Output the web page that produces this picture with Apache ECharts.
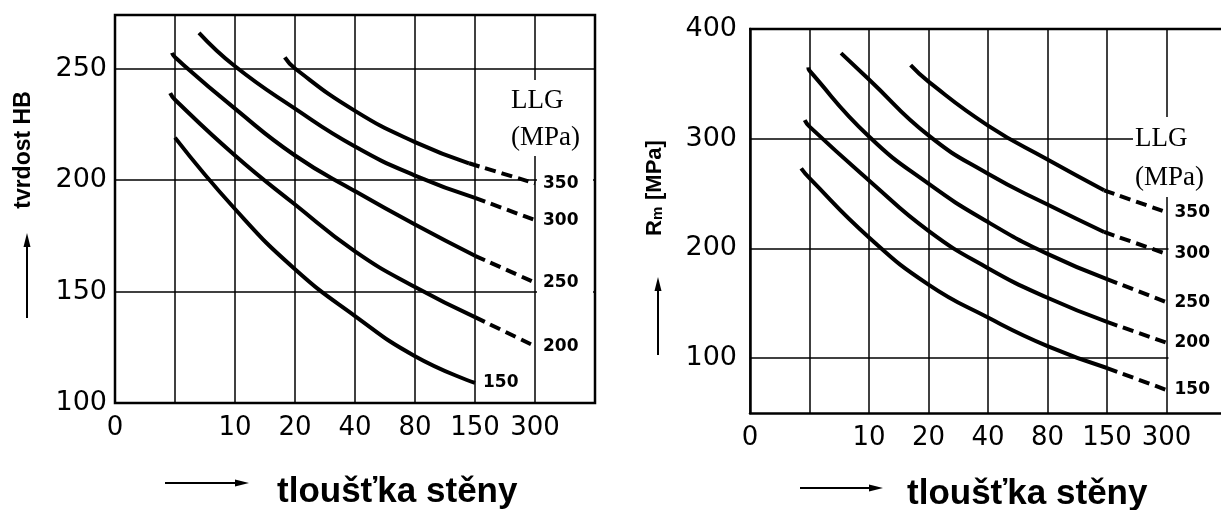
<!DOCTYPE html>
<html>
<head>
<meta charset="utf-8">
<title>tvrdost a Rm vs. tloušťka stěny</title>
<script src="https://cdn.jsdelivr.net/npm/echarts@6/dist/echarts.min.js"></script>
<style>
  html, body { margin: 0; padding: 0; background: #fff; overflow: hidden; }
  #main { width: 1221px; height: 510px; }
</style>
</head>
<body>
<div id="main"></div>
<script>
// x positions are slots on the wall thickness scale, labels below
const xTickLabels = ['0', '', '10', '20', '40', '80', '150', '300', ''];
const curveNames = ['150', '200', '250', '300', '350'];

// left panel: tvrdost HB, [slot, HB]
const hb150 = [[1.0, 219], [2, 187], [3, 160], [4, 139], [5, 121], [6, 109]];
const hb200 = [[0.92, 239], [1, 236], [2, 211], [3, 189], [4, 168], [5, 152], [6, 138.5]];
const hb200Dash = [[6, 138.5], [7, 125.5]];
const hb250 = [[0.95, 257], [1, 255], [2, 232], [3, 211], [4, 195], [5, 180], [6, 166]];
const hb250Dash = [[6, 166], [7, 154]];
const hb300 = [[1.4, 266], [2, 251], [3, 232], [4, 215], [5, 202], [6, 192]];
const hb300Dash = [[6, 192], [7, 182]];
const hb350 = [[2.83, 255], [3, 250], [4, 231], [5, 217], [5.9, 207.5]];
const hb350Dash = [[5.9, 207.5], [7, 198.5]];

// right panel: Rm [MPa]
const rm150 = [[0.86, 273], [1, 264], [2, 210], [3, 167], [4, 137], [5, 111], [6, 91]];
const rm150Dash = [[6, 91], [7, 71]];
const rm200 = [[0.92, 317], [1, 311], [2, 262], [3, 216], [4, 182], [5, 155], [6, 133]];
const rm200Dash = [[6, 133], [7, 114]];
const rm250 = [[0.98, 365], [1, 362], [2, 302], [3, 259], [4, 224], [5, 195], [6, 172]];
const rm250Dash = [[6, 172], [7, 151]];
const rm300 = [[1.53, 378], [2, 354], [3, 303], [4, 268], [5, 240], [5.95, 215]];
const rm300Dash = [[5.95, 215], [7, 195]];
const rm350 = [[2.7, 367], [3, 352], [4, 312], [5, 281], [5.95, 253]];
const rm350Dash = [[5.95, 253], [7, 233]];

const hbTicks = [100, 150, 200, 250];
const rmTicks = [100, 200, 300, 400];

function curve(data, grid, dashed, label) {
  const s = {
    type: 'line',
    xAxisIndex: grid,
    yAxisIndex: grid,
    data: data,
    smooth: 0.5,
    showSymbol: false,
    symbol: 'none',
    z: 5,
    lineStyle: { color: '#000', width: 4, type: dashed ? [11, 6] : 'solid' }
  };
  if (label) {
    s.endLabel = {
      show: true,
      formatter: label,
      color: '#000',
      fontFamily: 'DejaVu Sans',
      fontWeight: 'bold',
      fontSize: 17,
      distance: 6,
      backgroundColor: '#fff',
      padding: [1, 2]
    };
  }
  return s;
}

const axisFont = { color: '#000', fontFamily: 'DejaVu Sans' };
const frame = { show: true, lineStyle: { color: '#000', width: 2.5 } };

const chart = echarts.init(document.getElementById('main'));
chart.setOption({
  animation: false,
  backgroundColor: '#fff',
  grid: [
    { left: 115, top: 15, right: 626, bottom: 107, outerBoundsMode: 'none', show: true, borderColor: '#000', borderWidth: 2.5, backgroundColor: 'transparent' },
    // right panel runs off the page edge, so no frame from the grid here
    { left: 750, top: 29, right: -5, bottom: 97, outerBoundsMode: 'none', show: false }
  ],
  xAxis: [0, 1].map(i => ({
    type: 'value',
    gridIndex: i,
    min: 0,
    max: 8,
    interval: 1,
    axisLine: i === 1 ? frame : { show: false },
    axisTick: { show: false },
    axisLabel: Object.assign({ fontSize: 26, margin: 12, formatter: v => xTickLabels[v] || '' }, axisFont),
    splitLine: { show: true, lineStyle: { color: '#000', width: 1.5 } }
  })),
  yAxis: [
    {
      type: 'value', gridIndex: 0, min: 100, max: 274,
      axisLine: { show: false },
      axisTick: { show: false, customValues: hbTicks },
      axisLabel: Object.assign({ fontSize: 27, margin: 8, customValues: hbTicks }, axisFont),
      splitLine: { show: true, lineStyle: { color: '#000', width: 1.5 } }
    },
    {
      type: 'value', gridIndex: 1, min: 50, max: 400,
      axisLine: frame,
      axisTick: { show: false, customValues: rmTicks },
      axisLabel: Object.assign({ fontSize: 27, margin: 13, customValues: rmTicks }, axisFont),
      splitLine: { show: true, lineStyle: { color: '#000', width: 1.5 } }
    }
  ],
  series: [
    curve(hb150, 0, false, curveNames[0]),
    curve(hb200, 0, false), curve(hb200Dash, 0, true, curveNames[1]),
    curve(hb250, 0, false), curve(hb250Dash, 0, true, curveNames[2]),
    curve(hb300, 0, false), curve(hb300Dash, 0, true, curveNames[3]),
    curve(hb350, 0, false), curve(hb350Dash, 0, true, curveNames[4]),
    curve(rm150, 1, false), curve(rm150Dash, 1, true, curveNames[0]),
    curve(rm200, 1, false), curve(rm200Dash, 1, true, curveNames[1]),
    curve(rm250, 1, false), curve(rm250Dash, 1, true, curveNames[2]),
    curve(rm300, 1, false), curve(rm300Dash, 1, true, curveNames[3]),
    curve(rm350, 1, false), curve(rm350Dash, 1, true, curveNames[4])
  ]
});

// decorations placed from the axes
const px = (g, v) => chart.convertToPixel({ gridIndex: g }, v);
const lA = px(0, [7, 250]), lB = px(0, [8, 100]);
const rA = px(1, [7, 400]), rB = px(1, [8, 50]), rO = px(1, [0, 400]);

function arrowH(x1, x2, y) {
  return [
    { type: 'line', z: 20, shape: { x1: x1, y1: y, x2: x2 - 8, y2: y }, style: { stroke: '#000', lineWidth: 2 } },
    { type: 'polygon', z: 20, shape: { points: [[x2, y], [x2 - 14, y - 3.5], [x2 - 14, y + 3.5]] }, style: { fill: '#000' } }
  ];
}
function arrowV(x, y1, y2) {
  return [
    { type: 'line', z: 20, shape: { x1: x, y1: y1, x2: x, y2: y2 + 8 }, style: { stroke: '#000', lineWidth: 2 } },
    { type: 'polygon', z: 20, shape: { points: [[x, y2], [x - 3.5, y2 + 14], [x + 3.5, y2 + 14]] }, style: { fill: '#000' } }
  ];
}
const titleFont = 'bold 35px "Liberation Sans", Arial, sans-serif';
const llgFont = '27px "Liberation Serif", "Times New Roman", serif';

chart.setOption({
  graphic: [
    // blank area right of the last grid line
    { type: 'rect', z: 2, silent: true, shape: { x: lA[0] + 2, y: lA[1] + 2, width: lB[0] - lA[0] - 4, height: lB[1] - lA[1] - 4 }, style: { fill: '#fff' } },
    { type: 'rect', z: 2, silent: true, shape: { x: rA[0] + 2, y: rA[1] + 2, width: 1260 - rA[0], height: rB[1] - rA[1] - 4 }, style: { fill: '#fff' } },
    // top edge of the right frame
    { type: 'line', z: 3, shape: { x1: rO[0] - 1, y1: rO[1], x2: 1221, y2: rO[1] }, style: { stroke: '#000', lineWidth: 2.5 } },
    { type: 'text', z: 3, left: 509, top: 80, style: { text: 'LLG\n(MPa)', font: llgFont, lineHeight: 37, fill: '#000', backgroundColor: '#fff', padding: [2, 2, 0, 2] } },
    { type: 'text', z: 3, left: 1133, top: 117, style: { text: 'LLG\n(MPa)', font: llgFont, lineHeight: 39, fill: '#000', backgroundColor: '#fff', padding: [2, 2, 0, 2] } },
    // axis titles
    { type: 'text', z: 20, x: 24, y: 150, rotation: Math.PI / 2,
      style: { text: 'tvrdost HB', font: 'bold 23px "Liberation Sans", Arial, sans-serif', fill: '#000', align: 'center', verticalAlign: 'middle' } },
    { type: 'text', z: 20, x: 654, y: 188, rotation: Math.PI / 2,
      style: { text: '{r|R}{m|m}  {r|[MPa]}', fill: '#000', align: 'center', verticalAlign: 'middle',
        rich: {
          r: { font: 'bold 22px "Liberation Sans", Arial, sans-serif', fill: '#000', verticalAlign: 'bottom' },
          m: { font: 'bold 15px "Liberation Sans", Arial, sans-serif', fill: '#000', verticalAlign: 'bottom', padding: [8, 0, 0, 0] }
        } } },
    { type: 'text', z: 20, x: 277, y: 492, style: { text: 'tloušťka stěny', font: titleFont, fill: '#000', verticalAlign: 'middle' } },
    { type: 'text', z: 20, x: 907, y: 494, style: { text: 'tloušťka stěny', font: titleFont, fill: '#000', verticalAlign: 'middle' } }
  ].concat(arrowV(27, 318, 233), arrowV(658, 355, 277), arrowH(165, 249, 483), arrowH(800, 883, 488))
});
</script>
</body>
</html>
